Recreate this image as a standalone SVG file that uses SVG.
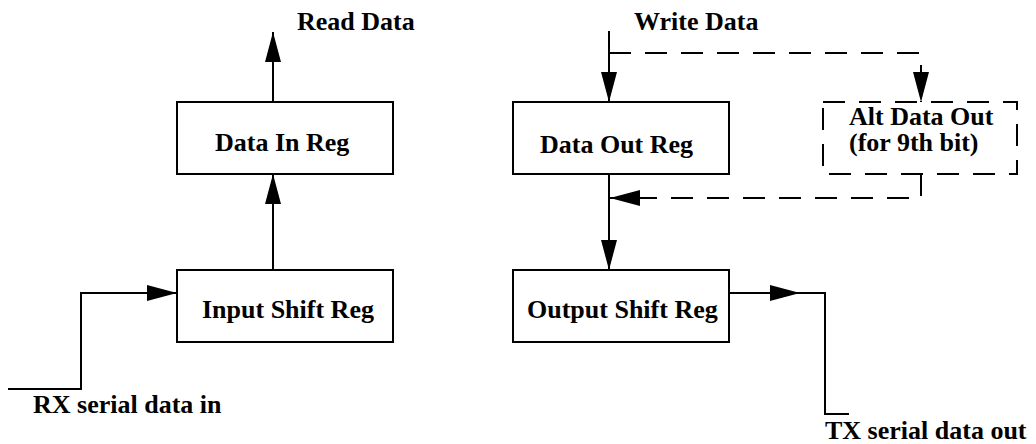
<svg xmlns="http://www.w3.org/2000/svg" width="1036" height="444" viewBox="0 0 1036 444">
  <style>
    .box { fill: #fff; stroke: #000; stroke-width: 2; }
    .dash { stroke-dasharray: 22 14; }
    .wire { fill: none; stroke: #000; stroke-width: 2; }
    .lbl { font-family: "Liberation Serif", "Times New Roman", serif; font-weight: bold; font-size: 26px; fill: #000; }
  </style>
  <defs>
    <marker id="arrow" markerUnits="userSpaceOnUse" markerWidth="30" markerHeight="18" viewBox="0 0 30 18" refX="30" refY="9" orient="auto">
      <path d="M0,1 L30,9 L0,17 Z" fill="#000"/>
    </marker>
  </defs>
  <rect width="1036" height="444" fill="#fff"/>

  <!-- connectors -->
  <g id="connectors">
    <path class="wire" d="M273,102 V32" marker-end="url(#arrow)"/>
    <path class="wire" d="M273,270 V174" marker-end="url(#arrow)"/>
    <path class="wire" d="M8,389 H81 V293 H177" marker-end="url(#arrow)"/>
    <path class="wire" d="M609,31 V102" marker-end="url(#arrow)"/>
    <path class="wire dash" d="M609,53 H921 V102" marker-end="url(#arrow)"/>
    <path class="wire dash" d="M921,174 V198 H610" marker-end="url(#arrow)"/>
    <path class="wire" d="M609,174 V270" marker-end="url(#arrow)"/>
    <path class="wire" d="M729,293 H800" marker-end="url(#arrow)"/>
    <path class="wire" d="M799,293 H825 V414 H849"/>
  </g>

  <!-- signal labels -->
  <g id="labels">
    <text class="lbl" x="297" y="30">Read Data</text>
    <text class="lbl" x="634" y="30">Write Data</text>
    <text class="lbl" x="33" y="413">RX serial data in</text>
    <text class="lbl" x="825" y="439">TX serial data out</text>
  </g>

  <g id="data-in-reg">
    <rect class="box" x="177" y="102" width="216" height="72"/>
    <text class="lbl" x="215" y="151">Data In Reg</text>
  </g>

  <g id="input-shift-reg">
    <rect class="box" x="177" y="270" width="216" height="72"/>
    <text class="lbl" x="202" y="318">Input Shift Reg</text>
  </g>

  <g id="data-out-reg">
    <rect class="box" x="513" y="102" width="216" height="72"/>
    <text class="lbl" x="540" y="153">Data Out Reg</text>
  </g>

  <g id="alt-data-out">
    <rect class="box dash" x="823" y="102" width="194" height="72"/>
    <text class="lbl"><tspan x="849" y="125">Alt Data Out</tspan><tspan x="849" y="151">(for 9th bit)</tspan></text>
  </g>

  <g id="output-shift-reg">
    <rect class="box" x="513" y="270" width="216" height="72"/>
    <text class="lbl" x="527" y="318">Output Shift Reg</text>
  </g>
</svg>
